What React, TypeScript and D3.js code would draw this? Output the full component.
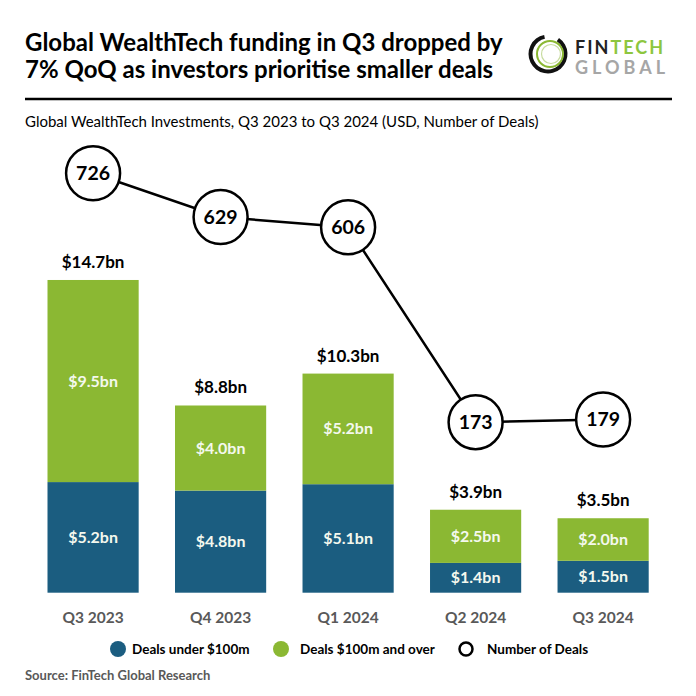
import React from "react";
import * as d3 from "d3";

const categories = ["Q3 2023", "Q4 2023", "Q1 2024", "Q2 2024", "Q3 2024"];
const dealsUnder = [5.2, 4.8, 5.1, 1.4, 1.5];
const dealsOver = [9.5, 4.0, 5.2, 2.5, 2.0];
const totalLabels = ["$14.7bn", "$8.8bn", "$10.3bn", "$3.9bn", "$3.5bn"];
const dealCounts = [726, 629, 606, 173, 179];

const BLUE = "#1b5d80";
const GREEN = "#8bb833";
const GRAY = "#595959";
const FONT = "Lato, 'Open Sans', sans-serif";

export default function App() {
  const W = 696, H = 696;
  const x = d3.scaleBand<string>().domain(categories).range([47.5, 648.7]).paddingInner(0.285).paddingOuter(0);
  const y = d3.scaleLinear().domain([0, 15]).range([592.7, 592.7 - 319.1]);
  const yd = d3.scaleLinear().domain([0, 800]).range([500, 140]);
  const bw = x.bandwidth();
  const cx = (c: string) => (x(c) as number) + bw / 2;

  const linePts: [number, number][] = categories.map((c, i) => [cx(c), yd(dealCounts[i])]);
  const line = d3.line()(linePts) as string;

  return (
    <svg width={W} height={H} style={{ position: "absolute", left: 0, top: 0, background: "#fff" }} fontFamily={FONT}>
      <rect width={W} height={H} fill="#fff" />
      {/* Title */}
      <text x={25} y={51} fontSize={24} fontWeight={700} fill="#000">Global WealthTech funding in Q3 dropped by</text>
      <text x={25} y={77.5} fontSize={24} fontWeight={700} fill="#000">7% QoQ as investors prioritise smaller deals</text>
      {/* Logo */}
      <g>
        <path d={d3.arc()({ innerRadius: 15.5, outerRadius: 19.5, startAngle: 0.6, endAngle: 2 * Math.PI - 0.2 }) as string} transform="translate(548,54)" fill="#111" />
        <circle cx={550} cy={54} r={13} fill="none" stroke={GREEN} strokeWidth={2} />
        <circle cx={551} cy={54} r={9.5} fill="none" stroke="#c8dca0" strokeWidth={1.2} />
        <text x={575} y={54} fontSize={18} fontWeight={700} fill="#222" letterSpacing={2}>FIN<tspan fill="#8dc63f">TECH</tspan></text>
        <text x={575} y={74} fontSize={18} fontWeight={700} fill="#a6a6a6" letterSpacing={4}>GLOBAL</text>
      </g>
      <line x1={25} x2={672} y1={99} y2={99} stroke="#000" strokeWidth={2.5} />
      <text x={25} y={127} fontSize={15} fill="#000">Global WealthTech Investments, Q3 2023 to Q3 2024 (USD, Number of Deals)</text>

      {/* Bars */}
      {categories.map((c, i) => {
        const x0 = x(c) as number;
        const yb = y(0), y1 = y(dealsUnder[i]), y2 = y(dealsUnder[i] + dealsOver[i]);
        return (
          <g key={c}>
            <rect x={x0} y={y1} width={bw} height={yb - y1} fill={BLUE} />
            <rect x={x0} y={y2} width={bw} height={y1 - y2} fill={GREEN} />
            <text x={cx(c)} y={(yb + y1) / 2} dy="0.35em" textAnchor="middle" fontSize={16} fontWeight={700} fill="#f4f8ee">{`$${dealsUnder[i].toFixed(1)}bn`}</text>
            <text x={cx(c)} y={(y1 + y2) / 2} dy="0.35em" textAnchor="middle" fontSize={16} fontWeight={700} fill="#f4f8ee">{`$${dealsOver[i].toFixed(1)}bn`}</text>
            <text x={cx(c)} y={y2 - 12} textAnchor="middle" fontSize={17} fontWeight={700} fill="#000">{totalLabels[i]}</text>
            <text x={cx(c)} y={623} textAnchor="middle" fontSize={15.5} fontWeight={700} fill={GRAY}>{c}</text>
          </g>
        );
      })}

      {/* Deals line */}
      <path d={line} fill="none" stroke="#000" strokeWidth={2.5} />
      {categories.map((c, i) => (
        <g key={"d" + c}>
          <circle cx={cx(c)} cy={yd(dealCounts[i])} r={27} fill="#fff" stroke="#000" strokeWidth={2.5} />
          <text x={cx(c)} y={yd(dealCounts[i])} dy="0.36em" textAnchor="middle" fontSize={19.5} fontWeight={700} fill="#000">{dealCounts[i]}</text>
        </g>
      ))}

      {/* Legend */}
      <g fontSize={13.5} fontWeight={700} fill="#000">
        <circle cx={118} cy={649} r={8} fill={BLUE} />
        <text x={132} y={649} dy="0.35em">Deals under $100m</text>
        <circle cx={281} cy={649} r={8} fill={GREEN} />
        <text x={300} y={649} dy="0.35em">Deals $100m and over</text>
        <circle cx={466} cy={649} r={6.5} fill="#fff" stroke="#000" strokeWidth={2.5} />
        <text x={487} y={649} dy="0.35em">Number of Deals</text>
      </g>
      <text x={25} y={680} fontSize={13} fontWeight={700} fill={GRAY}>Source: FinTech Global Research</text>
    </svg>
  );
}
